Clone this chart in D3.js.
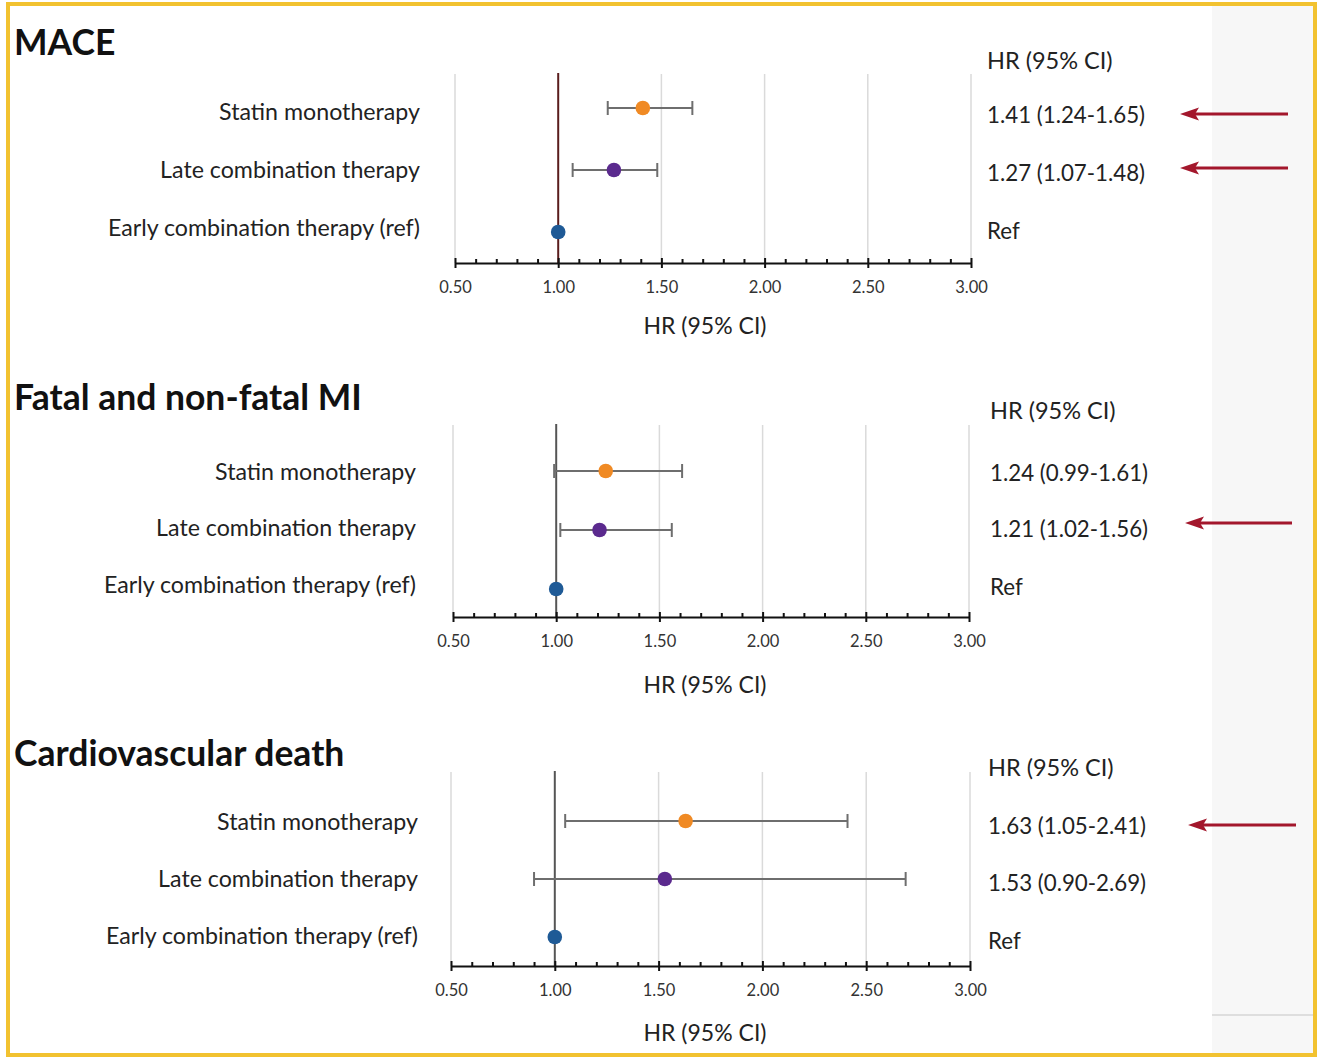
<!DOCTYPE html>
<html>
<head>
<meta charset="utf-8">
<script src="https://cdn.jsdelivr.net/npm/d3@7"></script>
<style>
  html, body { margin: 0; padding: 0; background: #fff; }
  svg { display: block; font-family: Lato, "Open Sans", sans-serif; }
</style>
</head>
<body>
<svg id="chart" width="1322" height="1059"></svg>
<script>
// ---------- DATA ----------
const panelTitles = ["MACE", "Fatal and non-fatal MI", "Cardiovascular death"];
const categories = ["Statin monotherapy", "Late combination therapy", "Early combination therapy (ref)"];
const hrMACE = [1.41, 1.27, 1.00];
const lowMACE = [1.24, 1.07, null];
const highMACE = [1.65, 1.48, null];
const hrMI = [1.24, 1.21, 1.00];
const lowMI = [0.99, 1.02, null];
const highMI = [1.61, 1.56, null];
const hrCVD = [1.63, 1.53, 1.00];
const lowCVD = [1.05, 0.90, null];
const highCVD = [2.41, 2.69, null];
const textMACE = ["1.41 (1.24-1.65)", "1.27 (1.07-1.48)", "Ref"];
const textMI = ["1.24 (0.99-1.61)", "1.21 (1.02-1.56)", "Ref"];
const textCVD = ["1.63 (1.05-2.41)", "1.53 (0.90-2.69)", "Ref"];
const arrowMACE = [true, true, false];
const arrowMI = [false, true, false];
const arrowCVD = [true, false, false];
const majorTicks = [0.5, 1.0, 1.5, 2.0, 2.5, 3.0];
const minorTicks = [0.6,0.7,0.8,0.9,1.1,1.2,1.3,1.4,1.6,1.7,1.8,1.9,2.1,2.2,2.3,2.4,2.6,2.7,2.8,2.9];
const axisDomain = [0.5, 3.0];
const columnHeader = "HR (95% CI)";
const axisTitle = "HR (95% CI)";

// ---------- STYLE / LAYOUT ----------
const dotColors = ["#F08A24", "#5B2A8E", "#1F5A96"];
const refLineColors = ["#5a1d1d", "#555555", "#555555"];
const arrowColor = "#A3172C";

const layout = [
  { titleY: 55, x0: 455, x1: 971, gridTop: 74, axisY: 263, rows: [108, 170, 232], labelX: 420, labelDy: [3, -1, -5],
    colX: 987, headY: 60, valY: [114, 172, 230], tickLabY: 287, axTitleY: 325, arrow: { x1: 1288, x2: 1180, y: [114, 168, 0] } },
  { titleY: 410, x0: 453, x1: 969, gridTop: 425, axisY: 617, rows: [471, 530, 589], labelX: 416, labelDy: [0, -3, -5],
    colX: 990, headY: 410, valY: [472, 528, 586], tickLabY: 641, axTitleY: 684, arrow: { x1: 1292, x2: 1185, y: [0, 523, 0] } },
  { titleY: 766, x0: 451, x1: 970, gridTop: 772, axisY: 966, rows: [821, 879, 937], labelX: 418, labelDy: [0, -1, -2],
    colX: 988, headY: 767, valY: [825, 882, 940], tickLabY: 990, axTitleY: 1032, arrow: { x1: 1296, x2: 1188, y: [825, 0, 0] } }
];

const panels = [
  { hr: hrMACE, lo: lowMACE, hi: highMACE, txt: textMACE, arr: arrowMACE },
  { hr: hrMI, lo: lowMI, hi: highMI, txt: textMI, arr: arrowMI },
  { hr: hrCVD, lo: lowCVD, hi: highCVD, txt: textCVD, arr: arrowCVD }
];

const svg = d3.select("#chart");

// right gray strip
svg.append("rect").attr("x", 1212).attr("y", 4).attr("width", 102).attr("height", 1050).attr("fill", "#f7f7f7");
svg.append("line").attr("x1", 1212).attr("x2", 1314).attr("y1", 1015).attr("y2", 1015)
  .attr("stroke", "#d6d6d6").attr("stroke-width", 1.5);

panels.forEach((p, pi) => {
  const L = layout[pi];
  const g = svg.append("g");
  const x = d3.scaleLinear().domain(axisDomain).range([L.x0, L.x1]);

  // title
  g.append("text").attr("x", 14).attr("y", L.titleY)
    .attr("font-size", 35.5).attr("font-weight", 700).attr("fill", "#111")
    .text(panelTitles[pi]);

  // gridlines
  g.selectAll(".grid").data(majorTicks.filter(d => d !== 1.0)).enter().append("line")
    .attr("x1", d => x(d)).attr("x2", d => x(d))
    .attr("y1", L.gridTop).attr("y2", L.axisY)
    .attr("stroke", "#dadada").attr("stroke-width", 1.5);

  // reference line
  g.append("line").attr("x1", x(1)).attr("x2", x(1))
    .attr("y1", L.gridTop - 1).attr("y2", L.axisY)
    .attr("stroke", refLineColors[pi]).attr("stroke-width", 2);

  // axis: minor ticks
  const minorG = g.append("g").attr("transform", `translate(0,${L.axisY})`)
    .call(d3.axisBottom(x).tickValues(minorTicks).tickSize(-4).tickFormat(""));
  minorG.select(".domain").remove();
  minorG.selectAll("line").attr("stroke", "#111").attr("stroke-width", 2);

  // axis: major ticks
  const majorG = g.append("g").attr("transform", `translate(0,${L.axisY})`)
    .call(d3.axisBottom(x).tickValues(majorTicks).tickSize(5).tickSizeOuter(0).tickFormat(d3.format(".2f")).tickPadding(8));
  majorG.select(".domain").attr("stroke", "#111").attr("stroke-width", 2.2);
  majorG.selectAll(".tick line").attr("y1", -5).attr("stroke", "#111").attr("stroke-width", 2);
  majorG.selectAll(".tick text").attr("font-size", 16.5).attr("fill", "#333")
    .attr("font-family", "Lato, sans-serif").attr("y", null).attr("dy", null)
    .attr("dominant-baseline", "central")
    .attr("transform", `translate(0,${L.tickLabY - L.axisY})`);

  // axis title
  g.append("text").attr("x", 705).attr("y", L.axTitleY)
    .attr("text-anchor", "middle").attr("dominant-baseline", "central")
    .attr("font-size", 23).attr("fill", "#222").text(axisTitle);

  // category labels
  g.selectAll(".lab").data(categories).enter().append("text")
    .attr("x", L.labelX).attr("y", (d, i) => L.rows[i] + L.labelDy[i])
    .attr("text-anchor", "end").attr("dominant-baseline", "central")
    .attr("font-size", 23.2).attr("fill", "#222").text(d => d);

  // error bars
  const idx = d3.range(categories.length).filter(i => p.lo[i] !== null);
  const eb = g.selectAll(".eb").data(idx).enter().append("g");
  eb.append("line").attr("x1", i => x(p.lo[i])).attr("x2", i => x(p.hi[i]))
    .attr("y1", i => L.rows[i]).attr("y2", i => L.rows[i])
    .attr("stroke", "#6e6e6e").attr("stroke-width", 2);
  eb.append("line").attr("x1", i => x(p.lo[i])).attr("x2", i => x(p.lo[i]))
    .attr("y1", i => L.rows[i] - 7).attr("y2", i => L.rows[i] + 7)
    .attr("stroke", "#6e6e6e").attr("stroke-width", 2);
  eb.append("line").attr("x1", i => x(p.hi[i])).attr("x2", i => x(p.hi[i]))
    .attr("y1", i => L.rows[i] - 7).attr("y2", i => L.rows[i] + 7)
    .attr("stroke", "#6e6e6e").attr("stroke-width", 2);

  // points
  g.selectAll(".pt").data(p.hr).enter().append("circle")
    .attr("cx", d => x(d)).attr("cy", (d, i) => L.rows[i]).attr("r", 7.3)
    .attr("fill", (d, i) => dotColors[i]);

  // right column
  g.append("text").attr("x", L.colX).attr("y", L.headY).attr("dominant-baseline", "central")
    .attr("font-size", 23.5).attr("fill", "#222").text(columnHeader);
  g.selectAll(".val").data(p.txt).enter().append("text")
    .attr("x", L.colX).attr("y", (d, i) => L.valY[i]).attr("dominant-baseline", "central")
    .attr("font-size", 22.3).attr("fill", "#222").text(d => d);

  // arrows
  const arrIdx = d3.range(3).filter(i => p.arr[i]);
  const ag = g.selectAll(".arr").data(arrIdx).enter().append("g");
  ag.append("line")
    .attr("x1", L.arrow.x1).attr("x2", L.arrow.x2 + 12)
    .attr("y1", i => L.arrow.y[i]).attr("y2", i => L.arrow.y[i])
    .attr("stroke", arrowColor).attr("stroke-width", 3.2);
  ag.append("path")
    .attr("d", i => {
      const y = L.arrow.y[i], xt = L.arrow.x2;
      return `M${xt},${y} L${xt + 19},${y - 6.5} L${xt + 15},${y} L${xt + 19},${y + 6.5} Z`;
    })
    .attr("fill", arrowColor);
});

// yellow frame
svg.append("rect").attr("x", 8).attr("y", 4).attr("width", 1307).attr("height", 1051)
  .attr("fill", "none").attr("stroke", "#F2C230").attr("stroke-width", 4);
</script>
</body>
</html>
